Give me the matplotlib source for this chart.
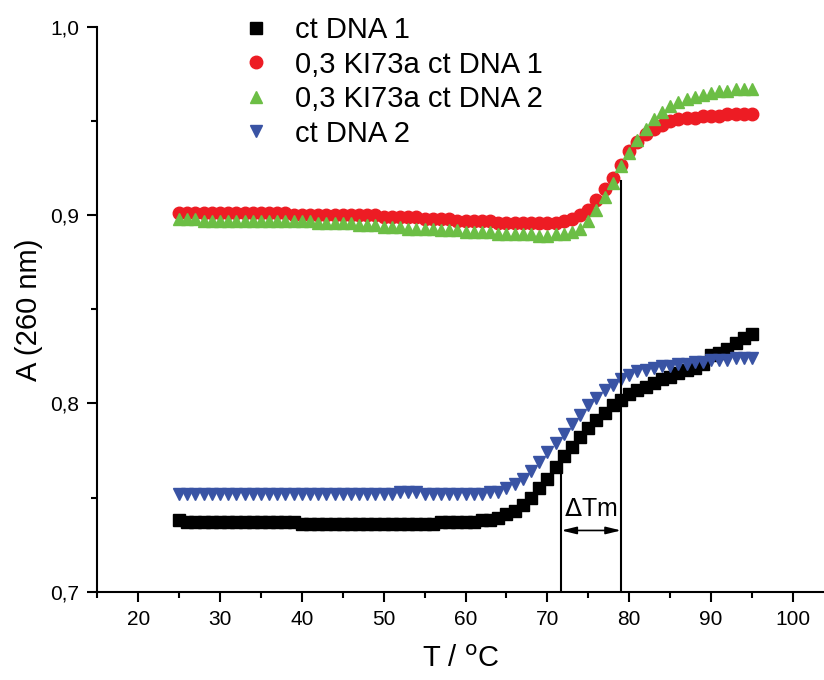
import matplotlib
matplotlib.use("Agg")
import matplotlib.pyplot as plt

plt.rcParams['font.family'] = ['Liberation Sans', 'DejaVu Sans']

# temperature points (deg C)
temps = list(range(25, 96))

ct_dna_1 = [
    0.738, 0.737, 0.737, 0.737, 0.737, 0.737, 0.737, 0.737, 0.737, 0.737,
    0.737, 0.737, 0.737, 0.737, 0.737, 0.736, 0.736, 0.736, 0.736, 0.736,
    0.736, 0.736, 0.736, 0.736, 0.736, 0.736, 0.736, 0.736, 0.736, 0.736,
    0.736, 0.736, 0.737, 0.737, 0.737, 0.737, 0.737, 0.738, 0.738, 0.739,
    0.741, 0.743, 0.746, 0.750, 0.755, 0.760, 0.766, 0.772, 0.777, 0.782,
    0.787, 0.791, 0.795, 0.799, 0.802, 0.805, 0.807, 0.809, 0.811, 0.813,
    0.814, 0.816, 0.818, 0.819, 0.821, 0.826, 0.827, 0.829, 0.832, 0.835,
    0.837,
]

ki73a_dna_1 = [
    0.901, 0.901, 0.901, 0.901, 0.901, 0.901, 0.901, 0.901, 0.901, 0.901,
    0.901, 0.901, 0.901, 0.901, 0.900, 0.900, 0.900, 0.900, 0.900, 0.900,
    0.900, 0.900, 0.900, 0.900, 0.900, 0.899, 0.899, 0.899, 0.899, 0.899,
    0.898, 0.898, 0.898, 0.898, 0.897, 0.897, 0.897, 0.897, 0.897, 0.896,
    0.896, 0.896, 0.896, 0.896, 0.896, 0.896, 0.896, 0.897, 0.898, 0.900,
    0.903, 0.908, 0.914, 0.920, 0.927, 0.934, 0.939, 0.943, 0.946, 0.948,
    0.950, 0.951, 0.952, 0.952, 0.953, 0.953, 0.953, 0.954, 0.954, 0.954,
    0.954,
]

ki73a_dna_2 = [
    0.898, 0.898, 0.898, 0.897, 0.897, 0.897, 0.897, 0.897, 0.897, 0.897,
    0.897, 0.897, 0.897, 0.897, 0.897, 0.897, 0.897, 0.896, 0.896, 0.896,
    0.896, 0.896, 0.895, 0.895, 0.895, 0.894, 0.894, 0.894, 0.893, 0.893,
    0.893, 0.893, 0.892, 0.892, 0.892, 0.891, 0.891, 0.891, 0.891, 0.890,
    0.890, 0.890, 0.890, 0.890, 0.889, 0.889, 0.890, 0.890, 0.891, 0.893,
    0.897, 0.903, 0.910, 0.917, 0.926, 0.933, 0.940, 0.946, 0.951, 0.955,
    0.958, 0.960, 0.962, 0.963, 0.964, 0.965, 0.966, 0.966, 0.967, 0.967,
    0.967,
]

ct_dna_2 = [
    0.752, 0.752, 0.752, 0.752, 0.752, 0.752, 0.752, 0.752, 0.752, 0.752,
    0.752, 0.752, 0.752, 0.752, 0.752, 0.752, 0.752, 0.752, 0.752, 0.752,
    0.752, 0.752, 0.752, 0.752, 0.752, 0.752, 0.752, 0.753, 0.753, 0.753,
    0.752, 0.752, 0.752, 0.752, 0.752, 0.752, 0.752, 0.752, 0.753, 0.753,
    0.755, 0.757, 0.760, 0.764, 0.769, 0.774, 0.779, 0.784, 0.789, 0.794,
    0.799, 0.803, 0.807, 0.810, 0.813, 0.815, 0.817, 0.818, 0.819, 0.820,
    0.820, 0.821, 0.821, 0.822, 0.822, 0.823, 0.823, 0.823, 0.824, 0.824,
    0.824,
]

labels = ["ct DNA 1", "0,3 KI73a ct DNA 1", "0,3 KI73a ct DNA 2", "ct DNA 2"]

x_ticks = [20, 30, 40, 50, 60, 70, 80, 90, 100]
y_ticks = [0.7, 0.8, 0.9, 1.0]
y_tick_labels = ["0,7", "0,8", "0,9", "1,0"]

tm_1 = 71.7
tm_2 = 79.0

fig = plt.figure(figsize=(8.24, 6.8), dpi=100)
ax = fig.add_axes([0.118, 0.13, 0.882, 0.83])

ax.plot(temps, ct_dna_1, linestyle="none", marker="s", ms=8, color="black", label=labels[0])
ax.plot(temps, ki73a_dna_1, linestyle="none", marker="o", ms=9, color="#ED1C24", label=labels[1])
ax.plot(temps, ki73a_dna_2, linestyle="none", marker="^", ms=9, color="#6CBE45", label=labels[2])
ax.plot(temps, ct_dna_2, linestyle="none", marker="v", ms=9, color="#3953A4", label=labels[3])

# delta Tm construction
ax.plot([tm_1, tm_1], [0.7, 0.770], color="black", lw=1.5)
ax.plot([tm_2, tm_2], [0.7, 0.918], color="black", lw=1.5)
ax.annotate("", xy=(tm_1, 0.7325), xytext=(tm_2, 0.7325),
            arrowprops=dict(arrowstyle="<|-|>,head_length=0.9,head_width=0.22",
                            color="black", lw=1.2, shrinkA=0, shrinkB=0))
ax.text((tm_1 + tm_2) / 2, 0.7375, r"$\Delta$Tm", ha="center", va="bottom", fontsize=18)

ax.set_xlim(15, 103.8)
ax.set_ylim(0.7, 1.0)
ax.set_xticks(x_ticks)
ax.set_xticks([15, 25, 35, 45, 55, 65, 75, 85, 95], minor=True)
ax.set_yticks(y_ticks)
ax.set_yticklabels(y_tick_labels)
ax.set_yticks([0.75, 0.85, 0.95], minor=True)

for s in ["top", "right"]:
    ax.spines[s].set_visible(False)
for s in ["left", "bottom"]:
    ax.spines[s].set_linewidth(1.5)
ax.tick_params(which="major", direction="out", length=7, width=1.5, labelsize=15, pad=6)
ax.tick_params(which="minor", direction="out", length=4, width=1.5)

ax.set_xlabel(r"T / $^{\mathrm{o}}$C", fontsize=21, labelpad=12)
ax.set_ylabel("A (260 nm)", fontsize=21, labelpad=5)

ax.legend(loc="upper left", bbox_to_anchor=(0.182, 1.04), frameon=False, fontsize=21,
          handlelength=1.0, handletextpad=0.85, labelspacing=0.22, borderaxespad=0)

fig.savefig("out.png", dpi=100)
